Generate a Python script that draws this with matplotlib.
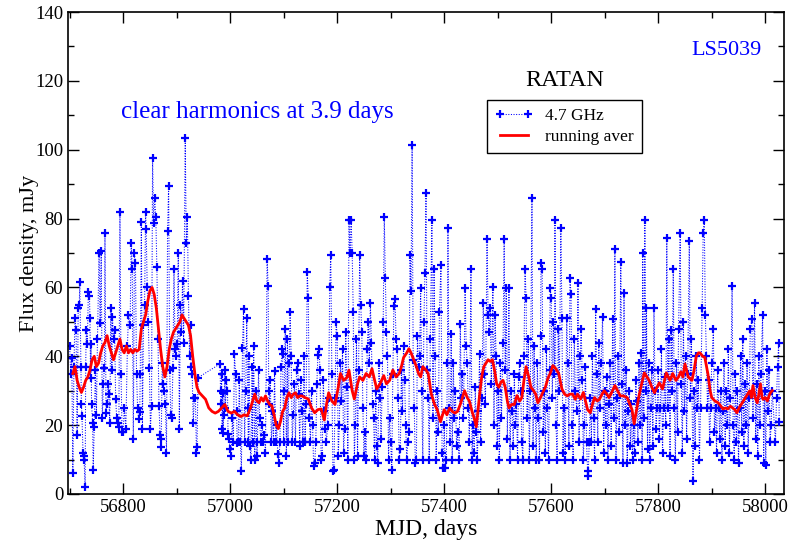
#!usr/bin/python3

import numpy as np
import matplotlib
matplotlib.use('Agg')
import matplotlib.pyplot as plt
from matplotlib.ticker import MultipleLocator

# ---- RATAN 4.7 GHz fluxes (mJy), by segment ----
mjd_a = [56700, 56702, 56704, 56706, 56708, 56710, 56712, 56714, 56716, 56718, 56719, 56721, 56722, 56723,
         56725, 56726, 56727, 56729, 56730, 56731, 56733, 56735, 56737, 56738, 56739, 56740, 56741, 56743,
         56744, 56746, 56748, 56750, 56752, 56755, 56757, 56759, 56761, 56763, 56765, 56766, 56768, 56770,
         56772, 56773, 56775, 56777, 56779, 56780, 56782, 56784, 56786, 56788, 56790, 56792, 56794, 56796, 56798]
flux_a = [43, 35, 39.5, 6, 37, 51, 47.7, 17, 54, 55, 61.7, 37, 26, 22.7,
          12, 11, 10, 2, 37, 47.7, 43.6, 58.8, 57.6, 51, 33.8, 43.6, 26, 20.6,
          7, 19.5, 36, 23, 45, 70, 49.7, 70.5, 22, 32, 36.7, 75.7, 23.5, 26,
          32, 29, 20.6, 54, 36, 51.5, 45, 47.7, 27.6, 22, 20.6, 19.5, 82, 35, 18]

mjd_b = [56800, 56802, 56805, 56808, 56810, 56813, 56815, 56817, 56819, 56821, 56823, 56825, 56827, 56829,
         56831, 56832, 56834, 56836, 56838, 56840, 56842, 56843, 56845, 56847, 56849, 56851, 56853, 56855,
         56857, 56859, 56861, 56863, 56865, 56867, 56869, 56870, 56871, 56873, 56875, 56877, 56879, 56881,
         56883, 56885, 56887, 56889, 56891, 56893, 56895, 56897, 56899, 56901, 56903, 56905, 56907, 56909,
         56911, 56913, 56916, 56918, 56920, 56922, 56924, 56926, 56927, 56929, 56931, 56933, 56935, 56937,
         56938, 56940]
flux_b = [18, 25, 19, 43, 52, 49, 72.8, 65.5, 16, 70, 67, 35, 25, 21.8,
          23.7, 35, 79, 19, 49, 55, 82, 77, 60, 50, 36.7, 19, 25.6, 97.5,
          78.6, 86, 80.5, 66, 45, 25.6, 17, 16, 13.7, 38, 32, 30, 26, 12,
          76.5, 89.4, 36, 23, 22, 36.7, 65.5, 42, 40, 43.6, 70, 19, 55, 47,
          62, 44, 103.4, 72.8, 80.4, 57.6, 40, 49, 37, 35, 20.6, 28, 28, 12,
          13.7, 33.8]

mjd_c = [56981, 56982, 56983, 56984, 56985, 56986, 56987, 56988, 56990, 56991, 56993, 56995, 56996, 56998,
         57000, 57002, 57004, 57006, 57008, 57010, 57012, 57013, 57015, 57017, 57019, 57021, 57023, 57025,
         57027, 57029, 57031, 57033, 57034, 57035, 57037, 57039, 57041, 57042, 57044, 57046, 57048, 57050,
         57051, 57053, 57055, 57057, 57060, 57062, 57064, 57066, 57069, 57071, 57072, 57073, 57075, 57077,
         57079, 57081, 57083, 57085, 57087, 57089, 57091, 57093, 57095, 57097, 57098, 57100, 57101, 57103,
         57105, 57107, 57108, 57110, 57112, 57114, 57116, 57118, 57120, 57122, 57124, 57126, 57128, 57130,
         57132, 57134, 57136, 57138]
flux_c = [37.8, 30, 26, 35, 19, 29.4, 17.8, 23, 36, 25, 33, 30, 17.4, 16,
          13, 11, 22, 15, 40.7, 35, 24, 14.8, 15, 33, 15, 6.7, 42.5, 53.8,
          15, 30, 51.2, 25, 15, 40, 14, 10, 37, 15, 43, 10, 30, 11,
          15, 36, 22, 15, 20, 15, 17, 12, 68.4, 60.5, 30, 26, 33, 15,
          24, 15, 35.8, 15, 20, 11.6, 9, 15, 37, 42, 40.7, 15, 30, 48,
          11, 45, 15, 38, 53, 40, 15, 23, 32, 15, 36, 38, 29, 14,
          33, 24, 15, 40]

mjd_d = [57140, 57142, 57144, 57146, 57148, 57150, 57152, 57154, 57156, 57158, 57160, 57162, 57164, 57166,
         57168, 57170, 57172, 57174, 57176, 57178, 57180, 57182, 57184, 57186, 57188, 57190, 57192, 57194,
         57196, 57198, 57200, 57202, 57204, 57206, 57208, 57210, 57212, 57214, 57216, 57218, 57220, 57222,
         57224, 57226, 57228, 57230, 57232, 57234, 57236, 57238, 57240, 57242, 57244, 57246, 57248, 57250,
         57252, 57254, 57256, 57258, 57260, 57262, 57264, 57266, 57268, 57270, 57272, 57274, 57276, 57278,
         57280, 57282, 57284, 57286, 57288, 57290, 57292, 57294, 57296, 57298, 57300, 57302, 57304, 57306,
         57308, 57310, 57312, 57314, 57316, 57318, 57320, 57322, 57324, 57326, 57328, 57330, 57332, 57334,
         57336, 57338, 57340, 57342, 57344, 57346, 57348, 57350, 57352, 57354, 57356]
flux_d = [15, 26, 64.6, 57, 22, 15, 30, 20, 8, 9, 15, 32, 40.5, 42,
          36, 10, 11, 33, 24, 19, 15, 20, 28, 60, 69.3, 35, 6.6, 7,
          28, 50, 46, 11, 20, 38, 27, 42, 12, 19, 47, 31, 10, 79.5,
          70, 79.5, 70, 53, 10, 20, 45, 11, 36, 69.5, 55, 47, 25, 11,
          18, 10, 42, 50, 38, 55.6, 44, 26, 22, 10, 30, 14, 9, 38,
          28, 16, 31, 50, 80.4, 62.6, 47, 40, 10, 22, 15, 7, 35, 54.7,
          56.7, 45, 42, 28, 10, 13, 36, 24, 43, 33, 20, 10, 15, 18,
          69.3, 59, 101.5, 39, 25, 9, 10, 46, 37, 40, 59.7]

mjd_e = [57358, 57360, 57362, 57364, 57366, 57368, 57370, 57372, 57374, 57377, 57379, 57381, 57383, 57385,
         57387, 57389, 57391, 57394, 57396, 57398, 57400, 57402, 57404, 57406, 57407, 57409, 57411, 57413,
         57415, 57417, 57419, 57421, 57423, 57425, 57428, 57430, 57432, 57434, 57436, 57439, 57441, 57443,
         57445, 57447, 57450, 57452, 57454, 57456, 57458, 57460, 57462, 57464, 57466, 57468, 57470, 57473,
         57475, 57477, 57480, 57482, 57484, 57486, 57488, 57491, 57493, 57495, 57497, 57499, 57501, 57503,
         57505, 57507, 57510, 57512, 57514, 57516, 57518, 57521, 57523, 57525, 57527, 57529, 57531, 57533,
         57535, 57537, 57539, 57541, 57543, 57545, 57547, 57549, 57551, 57553, 57555, 57557, 57559, 57561,
         57564, 57566, 57568, 57570, 57572]
flux_e = [30, 10, 50, 64.3, 87.3, 36, 28, 10, 45, 79.5, 22, 65.5, 40, 10,
          30, 18, 53, 66.6, 12, 7.5, 20, 7.5, 10, 38, 77.4, 25, 15, 46.6,
          10, 38, 22, 30, 14, 18, 10, 49.5, 28, 35, 22, 59.7, 43, 38,
          25, 15, 65.5, 10, 20, 12, 31, 18, 10, 24, 40.7, 15, 28, 55.6,
          35, 26, 74.2, 52, 47, 54, 32, 60, 20, 52, 40, 14, 30, 10,
          38, 22, 44, 74.2, 36, 59.7, 16, 59.7, 10, 30, 24, 14, 35, 20,
          26, 10, 34, 38, 30, 15, 10, 40, 65.5, 57, 22, 45, 10, 30,
          86, 14, 43, 25, 10]

mjd_f = [57574, 57576, 57578, 57580, 57581, 57583, 57585, 57587, 57589, 57591, 57593, 57595, 57597, 57598,
         57600, 57602, 57604, 57606, 57607, 57609, 57611, 57613, 57615, 57618, 57620, 57622, 57624, 57626,
         57629, 57631, 57633, 57635, 57637, 57639, 57641, 57643, 57645, 57648, 57650, 57652, 57654, 57656,
         57658, 57660, 57662, 57664, 57666, 57668, 57669, 57671, 57673, 57675, 57677, 57679, 57681, 57683,
         57685, 57687, 57689, 57691, 57693, 57696, 57698, 57700, 57702, 57704, 57706, 57708, 57710, 57712,
         57715, 57717, 57719, 57721, 57723, 57725, 57727, 57730, 57732, 57734, 57736, 57738, 57740, 57742,
         57744, 57746, 57748, 57750, 57752, 57754, 57756, 57758, 57760, 57762, 57764, 57766, 57768, 57770,
         57771, 57773, 57775, 57777, 57778, 57780, 57782, 57784, 57786, 57788, 57790, 57792, 57794, 57796]
flux_f = [38, 22, 10, 46, 67, 65.5, 18, 30, 12, 42, 25, 10, 36, 59.7,
          57, 28, 50, 35, 79.5, 20, 10, 48, 30, 77.4, 51, 12, 25, 10,
          51, 38, 14, 62.6, 58, 20, 10, 45, 30, 24, 61.4, 15, 40, 48,
          33, 10, 20, 37, 15, 6.7, 5.2, 15, 28, 15, 40, 22, 10, 53.8,
          35, 15, 44, 25, 38, 51.5, 12, 30, 20, 34, 10, 26, 38, 14,
          50.7, 22, 71.3, 10, 28, 40, 18, 67.5, 32, 9, 58.5, 20, 36, 9,
          24, 30, 14, 26, 10, 20, 12, 33, 27, 15, 38, 20, 41, 10,
          70, 22, 79.5, 30, 54, 13, 38, 10, 25, 36, 14, 54, 30, 19]

mjd_g = [57798, 57800, 57802, 57804, 57806, 57808, 57810, 57812, 57814, 57816, 57818, 57820, 57822, 57824,
         57826, 57828, 57830, 57832, 57834, 57836, 57838, 57841, 57843, 57845, 57847, 57849, 57851, 57853,
         57855, 57858, 57860, 57862, 57865, 57867, 57869, 57871, 57873, 57875, 57877, 57879, 57882, 57884,
         57886, 57888, 57890, 57892, 57894, 57896, 57898, 57900, 57903, 57905, 57907, 57909, 57911, 57913,
         57915, 57917, 57919, 57921, 57923, 57925, 57927, 57929, 57931, 57933, 57935, 57938, 57940, 57942,
         57944, 57946, 57948, 57950, 57952, 57954, 57956, 57958, 57960, 57962, 57964, 57966, 57968, 57970,
         57972, 57975, 57977, 57980, 57982, 57984, 57986, 57988, 57990, 57992, 57995, 57997, 57999, 58001,
         58003, 58005, 58007, 58009, 58011, 58013, 58019, 58021, 58023, 58025, 58026]
flux_g = [25, 36, 16, 25, 42, 12, 25, 34, 20, 74.5, 25, 45, 11, 47.7,
          30, 65.5, 25, 10, 38, 18, 48, 75.7, 32, 12, 50, 24, 40, 16,
          35, 73.6, 28, 45, 3.8, 30, 14, 40, 25, 33, 10, 25, 54, 75.7,
          79.5, 52, 40, 25, 33, 15, 25, 38, 48, 18, 25, 12, 36, 25,
          16, 30, 10, 24, 38, 14, 30, 20, 42, 12, 28, 60.5, 20, 10,
          35, 15, 30, 9, 25, 40, 18, 45, 14, 32, 20, 38, 12, 28,
          48, 50.7, 22, 55.6, 16, 32, 11, 40, 20, 35, 52, 9, 30, 8.5,
          42, 24, 36, 15, 20, 30, 15, 28, 37, 44, 21]

# ---- running average (red) ----
avg_mjd = [56706, 56710, 56714, 56718, 56722, 56726, 56730, 56734, 56738, 56742, 56746, 56750, 56754, 56758,
           56762, 56766, 56770, 56774, 56778, 56782, 56786, 56790, 56794, 56798, 56802, 56806, 56810, 56814,
           56818, 56822, 56826, 56830, 56834, 56838, 56842, 56846, 56850, 56854, 56858, 56862, 56866, 56870,
           56874, 56878, 56882, 56886, 56890, 56894, 56898, 56902, 56906, 56910, 56914, 56918, 56922, 56926,
           56930, 56934, 56938, 56942, 56948, 56954, 56960, 56966, 56972, 56978, 56984, 56990, 56996, 57002,
           57008, 57014, 57020, 57026, 57032, 57038, 57042, 57046, 57050, 57054, 57058, 57062, 57066, 57070,
           57074, 57078, 57082, 57086, 57090, 57094, 57098, 57102, 57106, 57110, 57114, 57118, 57122, 57126,
           57130, 57134, 57140, 57146, 57152, 57158, 57164, 57170, 57176, 57180, 57184, 57190, 57196, 57202,
           57206, 57212, 57218, 57222, 57228, 57232, 57238, 57242, 57248, 57254, 57260, 57265, 57270, 57274,
           57280, 57287, 57292, 57298, 57304, 57310, 57316, 57320, 57324, 57330, 57334, 57338, 57343, 57348,
           57352, 57356, 57360, 57366, 57370, 57376, 57382, 57387, 57393, 57397, 57400, 57405, 57410, 57415,
           57420, 57425, 57430, 57434, 57438, 57443, 57447, 57452, 57456, 57460, 57463, 57466, 57470, 57474,
           57478, 57482, 57486, 57490, 57494, 57498, 57502, 57506, 57510, 57514, 57518, 57521, 57526, 57531,
           57536, 57541, 57545, 57549, 57553, 57558, 57562, 57567, 57571, 57575, 57580, 57584, 57589, 57594,
           57598, 57603, 57608, 57614, 57620, 57625, 57630, 57635, 57640, 57645, 57649, 57655, 57660, 57664,
           57668, 57673, 57677, 57681, 57686, 57690, 57695, 57699, 57704, 57708, 57713, 57719, 57724, 57729,
           57735, 57742, 57747, 57751, 57755, 57760, 57764, 57769, 57774, 57779, 57783, 57788, 57793, 57796,
           57802, 57808, 57815, 57822, 57827, 57833, 57838, 57842, 57846, 57850, 57856, 57863, 57867, 57871,
           57875, 57878, 57883, 57887, 57893, 57897, 57900, 57906, 57912, 57917, 57921, 57926, 57930, 57935,
           57939, 57943, 57947, 57951, 57955, 57959, 57962, 57967, 57971, 57974, 57977, 57981, 57985, 57988,
           57991, 57994, 57996, 58000, 58004, 58007, 58010, 58013]
avg_flux = [35, 37, 33, 31, 29.5, 31, 33, 34, 36, 39, 40, 37, 38, 41,
            43, 44, 46, 43, 41, 39, 41, 43, 45, 42, 41, 43, 41, 42,
            41, 42, 41.5, 42, 48, 50, 52, 56, 59, 60, 58, 54, 48, 42,
            37, 34, 37, 42, 45, 47, 48, 49, 50, 52, 51, 50, 49, 46,
            40, 35, 31, 29.5, 28.5, 27.5, 25, 24, 23.5, 24, 25, 26, 24, 23.5,
            24, 23, 22.5, 23, 22.7, 25, 27, 29, 27, 26.5, 28, 27, 28.5, 27,
            26, 25.6, 23, 20, 19, 21, 24, 25, 28, 29.4, 28, 29, 29.4, 28,
            28.5, 28.5, 28, 27.6, 25, 23.6, 24.5, 24.7, 21.5, 26, 29.4, 27, 26, 31,
            35, 33, 33.8, 36, 30, 27.6, 32, 34, 33, 35, 34, 36.4, 33, 30.5,
            32, 34.4, 32, 33, 36, 34, 35, 37, 39.6, 41, 42.2, 41, 39, 37,
            35, 34, 37, 36, 35, 29, 26, 24.5, 21, 23, 24.5, 23, 25, 24,
            23.5, 24, 26, 28, 30, 28, 27, 24, 22, 19.5, 24, 28.6, 34, 37,
            38, 39, 38.5, 39, 36, 32, 31, 32.5, 33, 31, 27, 25, 26, 26,
            28.6, 27, 28, 33, 37, 34, 31, 30, 29, 26.5, 28, 29.4, 31, 33.7,
            35, 37.3, 36.5, 35, 30.5, 29, 28.5, 29, 29, 27.5, 29, 27.6, 29.5, 27,
            24.5, 23.6, 26, 28, 27, 27.5, 29, 30, 29, 28, 29.5, 31.5, 30, 28.5,
            28.5, 28, 26, 24.5, 20.4, 25, 28.5, 32, 35.2, 34, 33, 31, 29.4, 30.5,
            32.3, 30.5, 35.2, 33, 35, 33, 34, 35.5, 34, 37.8, 34, 33, 36, 40,
            41, 41, 40, 39.7, 34.7, 30, 28, 27, 26.5, 25.5, 24.7, 25, 24.7, 25.5,
            25, 24.5, 23.6, 25, 26, 27, 27.8, 29, 30, 28, 31.5, 28, 26.5, 29,
            32, 28, 27.5, 28, 27, 28.5, 29.5, 30]

mjd = np.concatenate([mjd_a, mjd_b, mjd_c, mjd_d, mjd_e, mjd_f, mjd_g])
flux = np.concatenate([flux_a, flux_b, flux_c, flux_d, flux_e, flux_f, flux_g])

plt.rcParams['font.family'] = ['Liberation Serif', 'DejaVu Serif']

fig = plt.figure(figsize=(7.92, 5.47), dpi=100)
ax = fig.add_axes([0.0859, 0.0969, 0.9040, 0.8811])

ax.plot(mjd, flux, ls=(0, (1, 1.5)), lw=0.75, color='#0000ff', marker='+', ms=6, mew=1.6,
        label='4.7 GHz', zorder=2)
ax.plot(avg_mjd, avg_flux, '-', lw=2, color='#ff0000', label='running aver', zorder=3)

ax.set_xlim(56697, 58035)
ax.set_ylim(0, 140)
ax.xaxis.set_major_locator(MultipleLocator(200))
ax.xaxis.set_minor_locator(MultipleLocator(100))
ax.yaxis.set_major_locator(MultipleLocator(20))
ax.yaxis.set_minor_locator(MultipleLocator(10))
ax.tick_params(which='both', direction='in', top=True, right=True, labelsize=13.5)
ax.tick_params(which='major', length=8, width=1)
ax.tick_params(which='minor', length=4.5, width=1)
for s in ax.spines.values():
    s.set_linewidth(1.2)

ax.set_xlabel('MJD, days', fontsize=17, labelpad=2)
ax.set_ylabel('Flux density, mJy', fontsize=16, labelpad=-3)

ax.text(0.919, 0.921, 'LS5039', transform=ax.transAxes, color='#0000ff',
        fontsize=16, ha='center', va='center')
ax.text(0.694, 0.858, 'RATAN', transform=ax.transAxes, color='black',
        fontsize=17.5, ha='center', va='center')
ax.text(0.264, 0.793, 'clear harmonics at 3.9 days', transform=ax.transAxes,
        color='#0000ff', fontsize=18, ha='center', va='center')

leg = ax.legend(loc='upper left', bbox_to_anchor=(0.573, 0.835), fontsize=12.5,
                numpoints=2, handlelength=2.2, handletextpad=0.7, borderpad=0.45,
                labelspacing=0.25, fancybox=False, framealpha=1, edgecolor='black')
leg.get_frame().set_linewidth(1)

fig.savefig('out.png', dpi=100)
